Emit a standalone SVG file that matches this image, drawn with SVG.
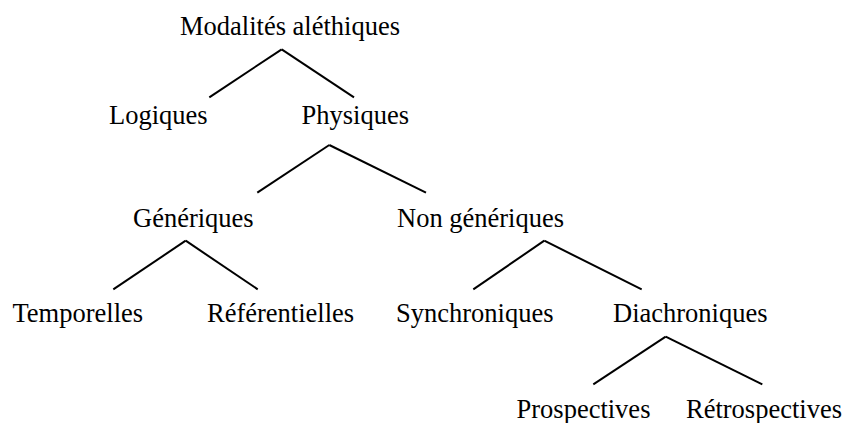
<svg xmlns="http://www.w3.org/2000/svg" width="842" height="423" viewBox="0 0 842 423">
<style>
text{font-family:"Liberation Serif","Times New Roman",serif;font-size:26.5px;fill:#000}
line{stroke:#000;stroke-width:2;stroke-linecap:butt}
</style>
<rect width="842" height="423" fill="#fff"/>
<g id="connectors">
<line x1="281.7" y1="49.3" x2="209.3" y2="97.3"/>
<line x1="281.7" y1="49.3" x2="354" y2="97.3"/>
<line x1="329.3" y1="145" x2="257.3" y2="192.7"/>
<line x1="329.3" y1="145" x2="426" y2="192.7"/>
<line x1="185.7" y1="240.7" x2="113.3" y2="289.3"/>
<line x1="185.7" y1="240.7" x2="257.7" y2="289.3"/>
<line x1="544.3" y1="240.7" x2="473.3" y2="289.3"/>
<line x1="544.3" y1="240.7" x2="641.7" y2="289.3"/>
<line x1="665.7" y1="336.7" x2="593.3" y2="384.3"/>
<line x1="665.7" y1="336.7" x2="762.3" y2="384.3"/>
</g>
<g id="n-modalites"><text x="180" y="35">Modalités aléthiques</text></g>
<g id="n-logiques"><text x="109" y="124">Logiques</text></g>
<g id="n-physiques"><text x="301.5" y="124">Physiques</text></g>
<g id="n-generiques"><text x="133" y="227">Génériques</text></g>
<g id="n-nongeneriques"><text x="397" y="227">Non génériques</text></g>
<g id="n-temporelles"><text x="12.5" y="322">Temporelles</text></g>
<g id="n-referentielles"><text x="207" y="322">Référentielles</text></g>
<g id="n-synchroniques"><text x="396" y="322">Synchroniques</text></g>
<g id="n-diachroniques"><text x="613" y="322">Diachroniques</text></g>
<g id="n-prospectives"><text x="516.5" y="418">Prospectives</text></g>
<g id="n-retrospectives"><text x="686" y="418">Rétrospectives</text></g>
</svg>
